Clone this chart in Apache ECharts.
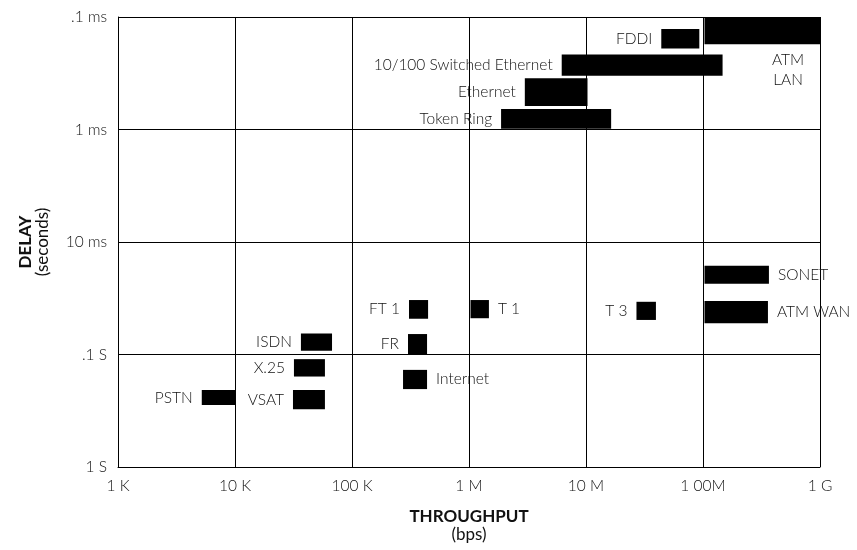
<!DOCTYPE html>
<html>
<head>
<meta charset="utf-8">
<script src="https://cdn.jsdelivr.net/npm/echarts@6/dist/echarts.min.js"></script>
<style>html,body{margin:0;padding:0;background:#fff}#c{width:857px;height:550px}</style>
</head>
<body>
<div id="c"></div>
<script>
const names = ['FDDI','ATM LAN','10/100 Switched Ethernet','Ethernet','Token Ring','SONET','ATM WAN','T 3','T 1','FT 1','ISDN','FR','X.25','Internet','PSTN','VSAT'];
const rateLow  = [44e6, 103e6, 6.2e6, 3.0e6, 1.88e6, 103e6, 103e6, 27e6, 1.03e6, 307e3, 36.6e3, 301e3, 31.9e3, 273e3, 5.2e3, 31.3e3];
const rateHigh = [93e6, 1e9, 147e6, 10.3e6, 16.4e6, 366e6, 359e6, 39.6e6, 1.48e6, 447e3, 67.5e3, 438e3, 58.7e3, 438e3, 10e3, 58.7e3];
const delayLow  = [0.128e-3, 0.1e-3, 0.215e-3, 0.351e-3, 0.658e-3, 16.3e-3, 33.4e-3, 34e-3, 32.8e-3, 32.8e-3, 64.9e-3, 65.8e-3, 0.110, 0.137, 0.207, 0.207];
const delayHigh = [0.191e-3, 0.175e-3, 0.333e-3, 0.618e-3, 0.984e-3, 23.5e-3, 52.8e-3, 49.3e-3, 47.6e-3, 48.1e-3, 92.5e-3, 99e-3, 0.157, 0.203, 0.281, 0.307];
const labelSide = ['left','below','left','left','left','right','right','left','right','left','left','left','left','right','left','left'];
const xTickLabels = ['1 K','10 K','100 K','1 M','10 M','1 00M','1 G'];
const yTickLabels = ['.1 ms','1 ms','10 ms','.1 S','1 S'];

const FONT = 'Lato';
const TXT = '#111';

const data = names.map((n, i) => [rateLow[i], rateHigh[i], delayLow[i], delayHigh[i]]);

function renderItem(params, api) {
  const a = api.coord([api.value(0), api.value(2)]);
  const b = api.coord([api.value(1), api.value(3)]);
  const x0 = Math.min(a[0], b[0]), x1 = Math.max(a[0], b[0]);
  const y0 = Math.min(a[1], b[1]), y1 = Math.max(a[1], b[1]);
  const i = params.dataIndex;
  const side = labelSide[i];
  const cy = (y0 + y1) / 2;
  let t;
  if (side === 'left') {
    t = {x: x0 - 9, y: cy, align: 'right', verticalAlign: 'middle', text: names[i]};
  } else if (side === 'right') {
    t = {x: x1 + 9, y: cy, align: 'left', verticalAlign: 'middle', text: names[i]};
  } else {
    t = {x: x1 - 32, y: y1 + 6, align: 'center', verticalAlign: 'top', text: names[i].replace(' ', '\n'), lineHeight: 20};
  }
  return {
    type: 'group',
    children: [
      {type: 'rect', shape: {x: x0, y: y0, width: x1 - x0, height: y1 - y0}, style: {fill: '#000'}},
      {type: 'text', style: Object.assign({fill: TXT, fontSize: 15.5, fontFamily: FONT, fontWeight: 300}, t)}
    ]
  };
}

const chart = echarts.init(document.getElementById('c'), null, {renderer: 'canvas'});
chart.setOption({
  animation: false,
  backgroundColor: '#fff',
  grid: {left: 118, right: 37, top: 17, bottom: 83},
  xAxis: {
    type: 'log', logBase: 10, min: 1e3, max: 1e9,
    axisLine: {lineStyle: {color: '#000', width: 1}},
    axisTick: {show: false},
    splitLine: {show: true, lineStyle: {color: '#000', width: 1}},
    axisLabel: {
      margin: 11, color: TXT, fontSize: 15.5, fontFamily: FONT, fontWeight: 300,
      formatter: v => xTickLabels[Math.round(Math.log10(v)) - 3]
    },
    name: '{b|THROUGHPUT}\n{r|(bps)}',
    nameLocation: 'middle', nameGap: 41,
    nameTextStyle: {
      rich: {
        b: {fontSize: 17, fontWeight: 'bold', fontFamily: FONT, color: '#111', lineHeight: 18},
        r: {fontSize: 17, fontFamily: FONT, color: '#111', lineHeight: 18}
      }
    }
  },
  yAxis: {
    type: 'log', logBase: 10, min: 1e-4, max: 1, inverse: true,
    axisLine: {lineStyle: {color: '#000', width: 1}},
    axisTick: {show: false},
    splitLine: {show: true, lineStyle: {color: '#000', width: 1}},
    axisLabel: {
      margin: 11, color: TXT, fontSize: 15.5, fontFamily: FONT, fontWeight: 300,
      formatter: v => yTickLabels[Math.round(Math.log10(v)) + 4]
    },
    name: '{b|DELAY}\n{r|(seconds)}',
    nameLocation: 'middle', nameGap: 67, nameRotate: 90,
    nameTextStyle: {
      rich: {
        b: {fontSize: 17, fontWeight: 'bold', fontFamily: FONT, color: '#111', lineHeight: 17},
        r: {fontSize: 17, fontFamily: FONT, color: '#111', lineHeight: 17}
      }
    }
  },
  series: [{
    type: 'custom',
    renderItem: renderItem,
    encode: {x: [0, 1], y: [2, 3]},
    data: data,
    clip: false
  }]
});
</script>
</body>
</html>
